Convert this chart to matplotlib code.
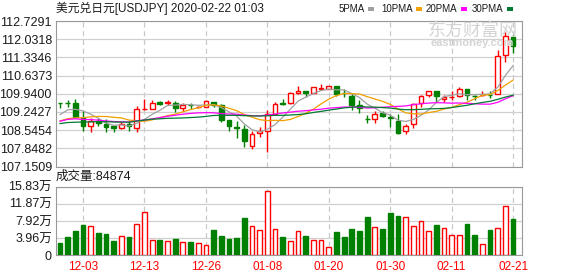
"""
USDJPY daily candlestick chart with moving averages and volume
"""
import numpy as np
import pandas as pd
import matplotlib
matplotlib.use("Agg")
import matplotlib.pyplot as plt
from matplotlib.patches import Rectangle

# closes before the visible window, only used to seed the moving averages
prior_close = [108.44, 108.62, 108.48, 108.70, 108.62, 108.67, 108.97, 108.88,
               108.77, 108.03, 108.19, 108.58, 109.17, 108.98, 109.28, 109.26,
               109.05, 108.99, 108.81, 108.42, 108.77, 108.68, 108.63, 108.57,
               108.66, 108.67, 108.91, 109.03, 109.51]

opens = [109.59, 109.59, 109.60, 109.00, 108.69, 108.90, 108.77, 108.69, 108.61, 108.77,
         108.62, 109.35, 109.35, 109.62, 109.57, 109.58, 109.41, 109.52, 109.42, 109.45,
         109.63, 109.52, 108.94, 108.66, 108.60, 107.92, 108.43, 108.52, 109.16, 109.58,
         109.60, 109.96, 110.03, 109.96, 110.14, 110.14, 110.22, 109.97, 109.86, 109.52,
         108.97, 108.97, 109.20, 109.03, 108.88, 108.52, 108.79, 109.58, 109.88, 110.06,
         109.74, 109.81, 109.86, 110.11, 109.87, 109.90, 109.90, 109.94, 111.43, 112.11]
closes = [109.58, 109.58, 109.03, 108.69, 108.90, 108.80, 108.65, 108.61, 108.77, 108.69,
          109.35, 109.36, 109.58, 109.54, 109.63, 109.41, 109.51, 109.50, 109.45, 109.67,
          109.49, 108.94, 108.69, 108.64, 108.14, 108.40, 108.53, 109.17, 109.54, 109.55,
          109.96, 110.06, 109.96, 110.19, 110.15, 110.22, 109.92, 109.95, 109.49, 109.39,
          108.96, 109.16, 109.07, 109.02, 108.43, 108.71, 109.54, 109.86, 110.05, 109.86,
          109.83, 109.82, 110.11, 109.90, 109.86, 109.91, 109.89, 111.39, 112.16, 111.77]
highs = [109.59, 109.71, 109.74, 109.26, 109.00, 109.00, 108.97, 108.69, 108.84, 108.88,
         109.48, 109.73, 109.71, 109.68, 109.71, 109.68, 109.60, 109.60, 109.46, 109.71,
         109.63, 109.55, 108.94, 108.90, 108.75, 108.53, 108.66, 109.32, 109.62, 109.73,
         110.00, 110.24, 110.06, 110.19, 110.31, 110.22, 110.24, 110.11, 109.96, 109.71,
         109.13, 109.26, 109.26, 109.16, 109.16, 108.79, 109.58, 109.90, 110.05, 110.06,
         109.90, 110.03, 110.18, 110.11, 109.90, 110.03, 110.03, 111.60, 112.29, 112.20]
lows = [109.39, 109.45, 109.00, 108.53, 108.49, 108.72, 108.49, 108.49, 108.58, 108.53,
        108.49, 109.30, 109.35, 109.49, 109.51, 109.23, 109.26, 109.36, 109.40, 109.45,
        109.45, 108.85, 108.53, 108.26, 107.88, 107.84, 108.30, 107.69, 109.12, 109.49,
        109.55, 109.92, 109.83, 109.96, 110.09, 110.14, 109.86, 109.83, 109.32, 109.22,
        108.81, 108.81, 109.04, 108.65, 108.39, 108.39, 108.62, 109.43, 109.81, 109.64,
        109.64, 109.71, 109.83, 109.71, 109.71, 109.86, 109.77, 109.94, 111.14, 111.52]
# volume in units of 万 (10k)
volumes = [2.92, 4.22, 5.61, 6.99, 6.76, 5.22, 4.92, 3.30, 4.45, 4.22,
           7.22, 9.99, 3.45, 3.53, 3.30, 3.76, 3.07, 3.07, 2.84, 2.38,
           5.84, 4.45, 3.76, 3.99, 8.60, 6.76, 5.84, 14.76, 6.07, 4.22,
           3.30, 5.61, 4.45, 3.53, 3.53, 1.84, 5.38, 4.22, 6.07, 5.61,
           8.83, 6.45, 6.07, 9.76, 9.07, 8.77, 6.68, 7.84, 5.53, 6.99,
           6.22, 4.68, 4.68, 7.22, 4.68, 2.61, 5.84, 6.22, 11.30, 8.49]

date_ticks = [3, 11, 19, 27, 35, 43, 51, 59]
date_labels = ["12-03", "12-13", "12-26", "01-08", "01-20", "01-30", "02-11", "02-21"]
price_levels = [107.1509, 107.8482, 108.5454, 109.2427, 109.9400,
                110.6373, 111.3346, 112.0318, 112.7291]
vol_levels = [0, 3.96, 7.92, 11.87, 15.83]
vol_labels = ["0", "3.96万", "7.92万", "11.87万", "15.83万"]
ma_periods = [5, 10, 20, 30]
ma_names = ["5PMA", "10PMA", "20PMA", "30PMA"]
ma_colors = ["#a0a0a0", "#f0a000", "#ff00ff", "#007a33"]

RED = "#ff0000"
GREEN = "#008000"
W, H = 578, 276

plt.rcParams["font.family"] = ["Liberation Sans", "Noto Sans CJK SC"]


def box(left, top, right, bottom):
    return [left / W, 1 - bottom / H, (right - left) / W, (bottom - top) / H]


o = np.array(opens)
c = np.array(closes)
hi = np.array(highs)
lo = np.array(lows)
n = len(c)
x = np.arange(n)
up = c >= o
cols = [RED if u else GREEN for u in up]
faces = ["white" if u else GREEN for u in up]

fig = plt.figure(figsize=(W / 100, H / 100), dpi=100)
ax = fig.add_axes(box(56, 21, 522, 166.5))
axv = fig.add_axes(box(56, 186.7, 522, 255.3))

for a in (ax, axv):
    a.set_xlim(-0.52, 60.16)
    for s in a.spines.values():
        s.set_color("#999999")
    for xi in date_ticks:
        a.axvline(xi, color="#c8c8c8", lw=0.9, ls=(0, (4, 3)), zorder=0)
    a.grid(axis="y", color="#d0d0d0", lw=0.9, zorder=0)
    a.set_axisbelow(True)
    a.tick_params(length=0, pad=3, labelsize=9, colors="#1a1a1a")

# candles
ax.vlines(x, lo, hi, colors=cols, lw=1, zorder=2)
ax.bar(x, np.maximum(np.abs(c - o), 0.006), bottom=np.minimum(o, c), width=0.62,
       color=faces, edgecolor=cols, lw=1, zorder=3)

# moving averages
full = pd.Series(prior_close + closes)
for p, col in zip(ma_periods, ma_colors):
    ma = full.rolling(p).mean().to_numpy()[-n:]
    ax.plot(x, ma, color=col, lw=0.9, zorder=4)

ax.set_ylim(price_levels[0], price_levels[-1])
ax.set_yticks(price_levels)
ax.set_yticklabels([f"{v:.4f}" for v in price_levels])
ax.set_xticks([])

# volume
axv.bar(x, volumes, width=0.62, color=faces, edgecolor=cols, lw=1, zorder=3)
axv.set_ylim(0, vol_levels[-1])
axv.set_yticks(vol_levels)
axv.set_yticklabels(vol_labels)
axv.set_xticks(date_ticks)
axv.set_xticklabels(date_labels, color=RED, fontsize=8.5)
axv.tick_params(axis="x", pad=4)

# header texts
fig.text(56 / W, 1 - 8 / H, "美元兑日元[USDJPY] 2020-02-22 01:03",
         fontsize=8.5, va="center", ha="left", color="#1a1a1a")
fig.text(56 / W, 1 - 177 / H, "成交量:84874",
         fontsize=9, va="center", ha="left", color="#1a1a1a")

leg_x = [339, 381, 426, 472]
for lx, name, col in zip(leg_x, ma_names, ma_colors):
    t = fig.text(lx / W, 1 - 8.5 / H, name, fontsize=7, va="center", ha="left",
                 color="#1a1a1a")
    fig.canvas.draw()
    bb = t.get_window_extent()
    fig.add_artist(Rectangle((bb.x1 / W + 3 / W, 1 - 10.5 / H), 6 / W, 4 / H,
                             transform=fig.transFigure, color=col, lw=0))

# watermark
fig.text(473 / W, 1 - 31 / H, "东方财富网", fontsize=13, color="#d4d4d4",
         ha="center", va="center", zorder=0)
fig.text(472 / W, 1 - 43.5 / H, "eastmoney.com", fontsize=8, color="#d4d4d4",
         ha="center", va="center", fontweight="bold", zorder=0)

fig.savefig("out.png", dpi=100)
